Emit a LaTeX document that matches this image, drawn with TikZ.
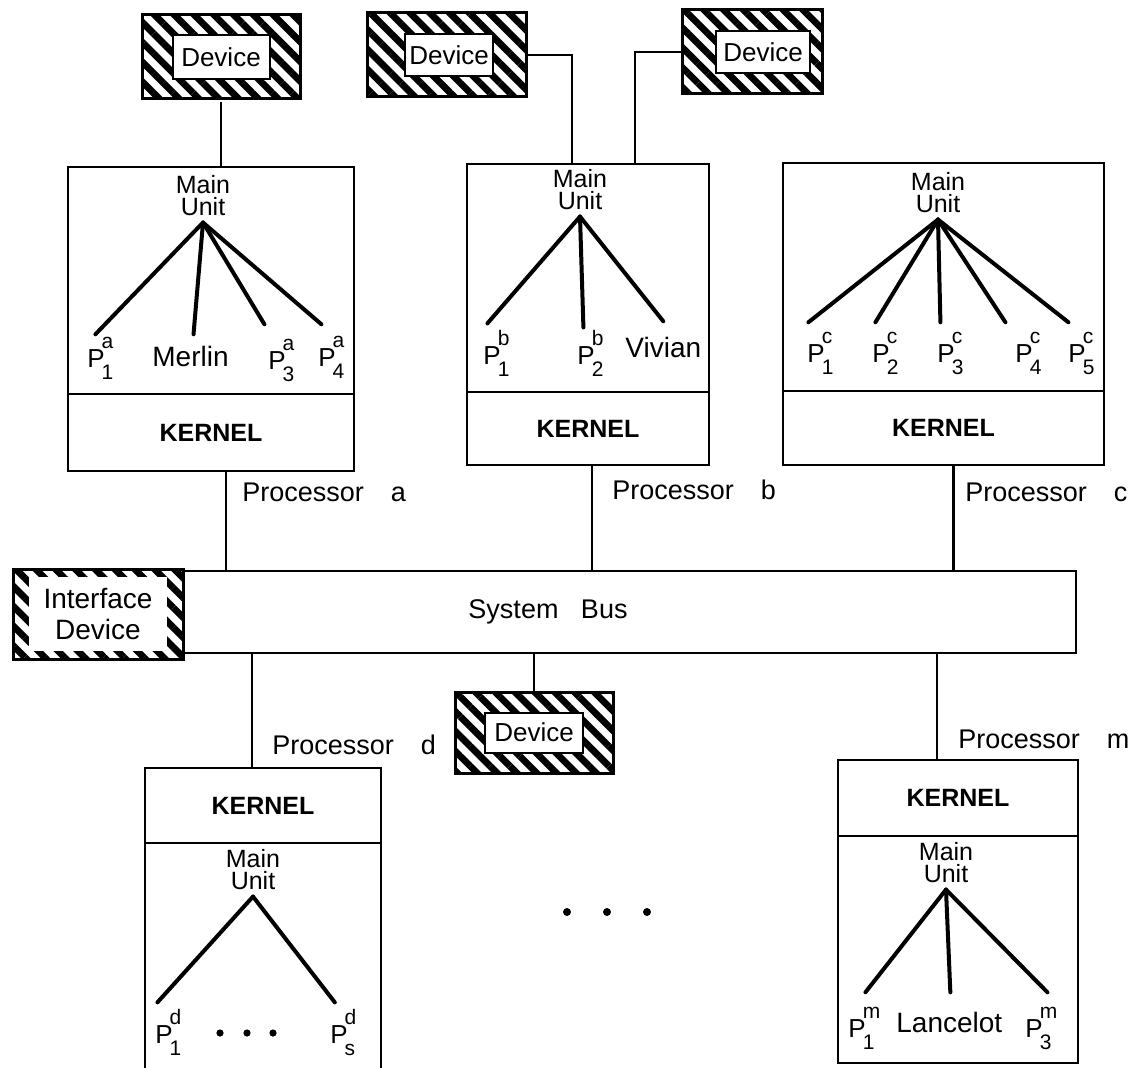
\documentclass[tikz,border=0pt]{standalone}
\usepackage{fontspec}
\setmainfont{Liberation Sans}
\usetikzlibrary{fit,patterns.meta}

\begin{document}
\begin{tikzpicture}[x=0.5pt, y=-0.5pt]
    \def\Pl#1#2{P\kern-1.5pt\rlap{\raisebox{9.5pt}{\fontsize{10.5}{10}\selectfont #1}}\raisebox{-6pt}{\fontsize{10.5}{10}\selectfont #2}}
    \tikzset{
        box/.style={draw, line width=1.3pt, inner sep=0pt},
        kern/.style={box, font=\bfseries\fontsize{12.5}{14}\selectfont},
        hatch/.style={draw, line width=1.5pt, inner sep=0pt, pattern={Lines[angle=-45, distance=7pt, line width=3.4pt]}},
        dev/.style={draw, fill=white, line width=1pt, inner sep=0pt, font=\fontsize{13}{14}\selectfont},
        mu/.style={align=center, inner sep=3pt, font=\fontsize{12.5}{11}\selectfont},
        plab/.style={anchor=base west, inner sep=0pt, font=\fontsize{13}{14}\selectfont},
        wlab/.style={plab, font=\fontsize{14}{15}\selectfont},
        proc/.style={anchor=west, inner sep=0pt, font=\fontsize{13.5}{15}\selectfont},
        link/.style={line width=1.1pt},
        tree/.style={line width=2pt, line cap=round},
    }
    \useasboundingbox (0,0) rectangle (1138,1068);
    \clip (0,0) rectangle (1138,1068);

    % devices
    \node[hatch, fit={(142,15) (300,99)}] (deva) {};
    \node[dev, minimum width=48.5pt, minimum height=22pt] (deva-t) at (deva) {Device};
    \node[hatch, fit={(367,13) (526,97)}] (devb1) {};
    \node[dev, minimum width=44pt, minimum height=21pt] (devb1-t) at ([xshift=1.25pt]devb1) {Device};
    \node[hatch, fit={(682,10) (822,94)}] (devb2) {};
    \node[dev, minimum width=47pt, minimum height=21pt] (devb2-t) at ([xshift=5.5pt]devb2) {Device};
    \node[hatch, fit={(455,692) (613,773)}] (devm) {};
    \node[dev, minimum width=49pt, minimum height=20pt] (devm-t) at (devm) {Device};

    % processor a
    \node[box, fit={(68,167) (354,394)}] (pa) {};
    \node[kern, minimum width=143pt, minimum height=38.5pt] (ka) at (211,432.5) {KERNEL};
    \node[mu] (mua) at (203,196) {Main\\Unit};
    \node[plab] (a1) at (87,368) {\Pl{a}{1}};
    \node[wlab] (a2) at (152,367) {Merlin};
    \node[plab] (a3) at (268,370) {\Pl{a}{3}};
    \node[plab] (a4) at (318,367) {\Pl{a}{4}};
    \foreach \l/\s/\t in {a1/-2.5/1.5, a2/1.5/6, a3/-8.5/7.5, a4/-5/6}
        \draw[tree] (mua.south) -- ([shift={(\s pt,\t pt)}]\l.north);
    \node[proc] (pla) at (242,492) {Processor\quad a};

    % processor b
    \node[box, fit={(467,164) (709,392)}] (pb) {};
    \node[kern, minimum width=121pt, minimum height=36.5pt] (kb) at (588,428.5) {KERNEL};
    \node[mu] (mub) at (580,190) {Main\\Unit};
    \node[plab] (b1) at (483,365) {\Pl{b}{1}};
    \node[plab] (b2) at (577,365) {\Pl{b}{2}};
    \node[wlab] (b3) at (625,358) {Vivian};
    \foreach \l/\s/\t in {b1/-4.5/3.5, b2/-3.5/1.5, b3/0/8}
        \draw[tree] (mub.south) -- ([shift={(\s pt,\t pt)}]\l.north);
    \node[proc] (plb) at (612,490) {Processor\quad b};

    % processor c
    \node[box, fit={(783,163) (1104,391)}] (pc) {};
    \node[kern, minimum width=160.5pt, minimum height=37pt] (kc) at (943.5,428) {KERNEL};
    \node[mu] (muc) at (938,193) {Main\\Unit};
    \foreach \x [count=\i] in {807,872,937,1015,1068}
        \node[plab] (c\i) at (\x,363) {\Pl{c}{\i}};
    \foreach \l/\s in {c1/-6, c2/-5, c3/-5, c4/-11.5, c5/-6.5}
        \draw[tree] (muc.south) -- ([shift={(\s pt,5pt)}]\l.north);
    \node[proc] (plc) at (965,492) {Processor\quad c};

    % system bus
    \node[box, fit={(183,571) (1076,653)}] (bus) {};
    \node[proc, anchor=center] (busl) at (548,612) {System~~~Bus};
    \node[hatch, fit={(13,569) (183,659)}] (ifd) {};
    \node[fill=white, align=center, inner sep=0pt, minimum width=69pt, minimum height=37pt,
          font=\fontsize{14}{15.5}\selectfont] (ifd-t) at (ifd) {Interface\\Device};

    % processor d
    \node[kern, minimum width=118pt, minimum height=37.5pt] (kd) at (263,805.5) {KERNEL};
    \node[box, fit={(145,843) (381,1090)}] (pd) {};
    \node[mu] (mud) at (253,870) {Main\\Unit};
    \node[plab] (d1) at (155,1043) {\Pl{d}{1}};
    \node[plab] (d2) at (330,1043) {\Pl{d}{s}};
    \foreach \l/\s in {d1/-5.5, d2/-4}
        \draw[tree] (mud.south) -- ([shift={(\s pt,3pt)}]\l.north);
    \foreach \x in {220,247,273}
        \fill (\x,1033) circle (1.8pt);
    \node[proc] (pld) at (272,745) {Processor\quad d};

    % processor m
    \node[kern, minimum width=120pt, minimum height=38pt] (km) at (958,798) {KERNEL};
    \node[box, fit={(838,836) (1078,1063)}] (pm) {};
    \node[mu] (mum) at (946,863) {Main\\Unit};
    \node[plab] (m1) at (848,1037) {\Pl{m}{1}};
    \node[wlab] (m2) at (896,1032) {Lancelot};
    \node[plab] (m3) at (1025,1037) {\Pl{m}{3}};
    \foreach \l/\s/\t in {m1/2/7, m2/0.5/9.5, m3/4.5/7}
        \draw[tree] (mum.south) -- ([shift={(\s pt,\t pt)}]\l.north);
    \node[proc] (plm) at (958,739) {Processor\quad m};

    % more processors
    \foreach \x in {567,607,647}
        \fill (\x,912) circle (2pt);

    % links
    \draw[link] (deva.south) -- (deva.south |- pa.north);
    \draw[link] (devb1.east) -| ([xshift=-8pt]pb.north);
    \draw[link] (devb2.west) -| ([xshift=23.5pt]pb.north);
    \foreach \k/\s in {ka/7.5, kb/2, kc/5}
        \draw[link] ([xshift=\s pt]\k.south) -- ([xshift=\s pt]\k.south |- bus.north);
    \foreach \k/\s in {kd/-5.5, km/-10.5}
        \draw[link] ([xshift=\s pt]\k.north |- bus.south) -- ([xshift=\s pt]\k.north);
    \draw[link] (devm.north |- bus.south) -- (devm.north);

\end{tikzpicture}
\end{document}
